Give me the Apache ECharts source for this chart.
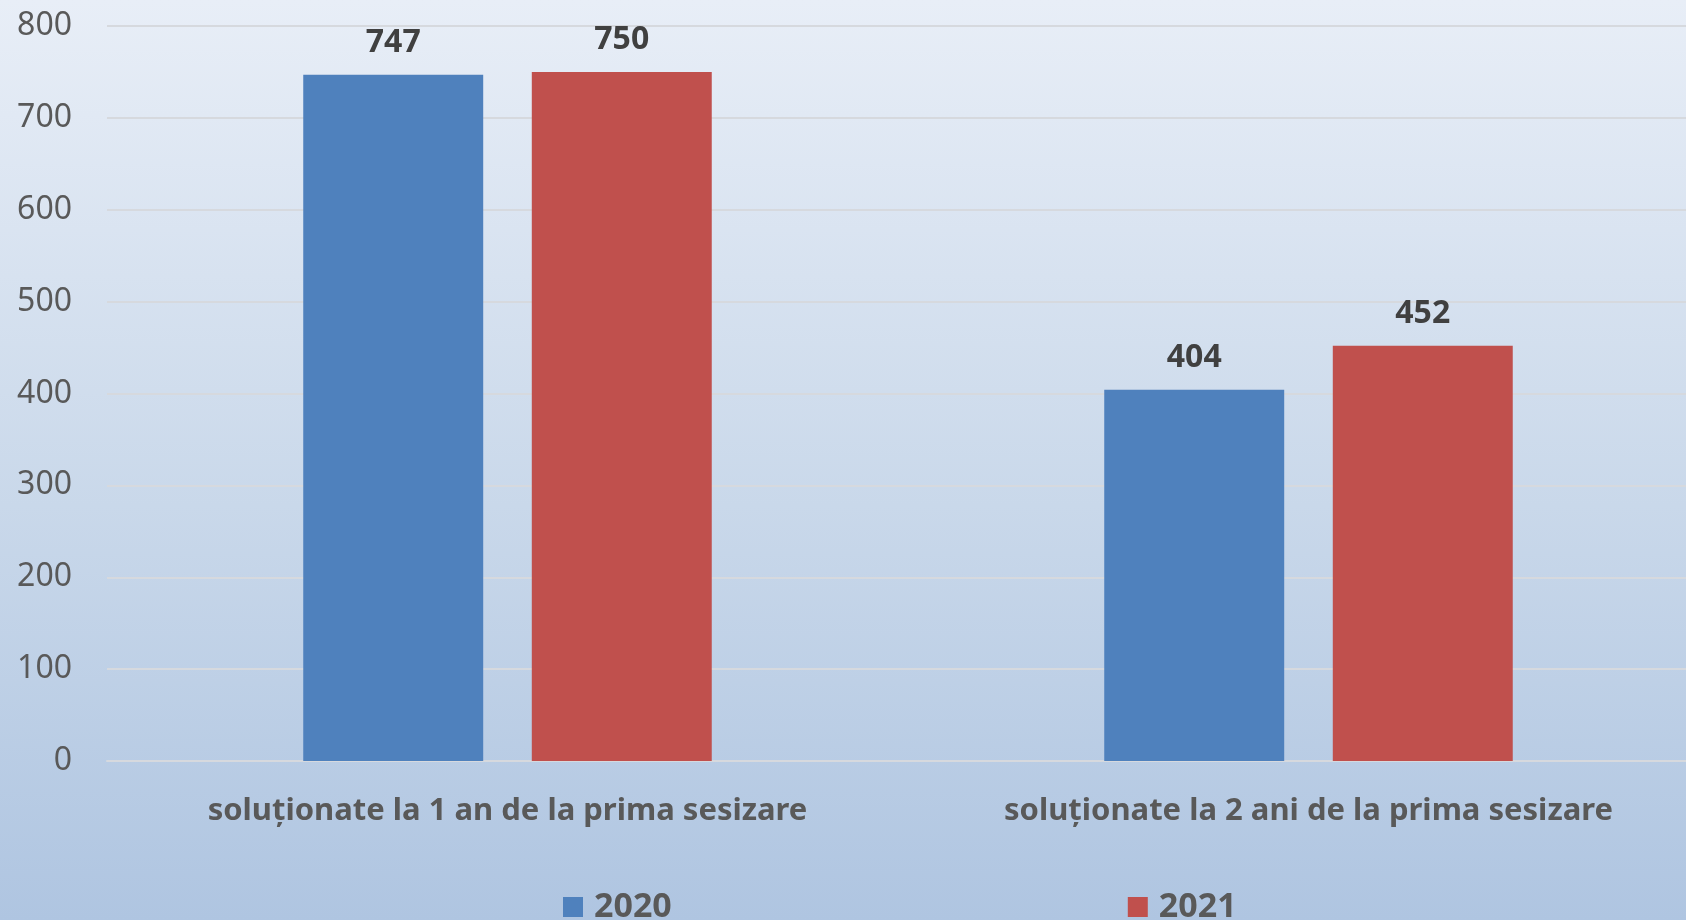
<!DOCTYPE html>
<html>
<head>
<meta charset="utf-8">
<script src="https://cdn.jsdelivr.net/npm/echarts@6/dist/echarts.min.js"></script>
<style>
  html, body { margin: 0; padding: 0; overflow: hidden; }
  body { width: 1686px; height: 920px; }
  /* the plot area runs a bit past the right edge of the picture, so the canvas is wider than the window */
  #chart {
    width: 1709px;
    height: 920px;
    background: linear-gradient(to bottom, #e8eef7 0%, #c9d8ea 55%, #afc5e1 100%);
  }
</style>
</head>
<body>
<div id="chart"></div>
<script>
const categories = ['soluționate la 1 an de la prima sesizare', 'soluționate la 2 ani de la prima sesizare']
const seriesNames = ['2020', '2021']
const values2020 = [747, 404]
const values2021 = [750, 452]

const chart = echarts.init(document.getElementById('chart'))

const labelStyle = {
  show: true,
  position: 'top',
  distance: 16,
  color: '#404040',
  fontSize: 32,
  fontWeight: 'bold',
  fontFamily: 'Noto Sans'
}

chart.setOption({
  backgroundColor: 'transparent',
  animation: false,
  grid: {
    left: 107,
    right: 0,
    top: 26,
    bottom: 159
  },
  legend: {
    data: seriesNames,
    left: 558,
    top: 885,
    itemWidth: 20,
    itemHeight: 20,
    itemGap: 456,
    icon: 'rect',
    textStyle: {
      color: '#595959',
      fontSize: 34,
      fontWeight: 'bold',
      fontFamily: 'Noto Sans',
      padding: [0, 0, 0, 6]
    }
  },
  xAxis: {
    type: 'category',
    data: categories,
    axisLine: { lineStyle: { color: '#d6d9de', width: 2 } },
    axisTick: { show: false },
    axisLabel: {
      margin: 35,
      interval: 0,
      color: '#595959',
      fontSize: 31,
      fontWeight: 'bold',
      fontFamily: 'Noto Sans'
    }
  },
  yAxis: {
    type: 'value',
    min: 0,
    max: 800,
    interval: 100,
    axisLine: { show: false },
    axisTick: { show: false },
    splitLine: { lineStyle: { color: '#d6d9de', width: 2 } },
    axisLabel: {
      margin: 35,
      color: '#595959',
      fontSize: 32,
      fontFamily: 'Noto Sans'
    }
  },
  series: [
    {
      name: seriesNames[0],
      type: 'bar',
      data: values2020,
      barGap: '27%',
      barCategoryGap: '49%',
      itemStyle: { color: '#4f81bd' },
      label: labelStyle
    },
    {
      name: seriesNames[1],
      type: 'bar',
      data: values2021,
      itemStyle: { color: '#c0504d' },
      label: labelStyle
    }
  ]
})
</script>
</body>
</html>
